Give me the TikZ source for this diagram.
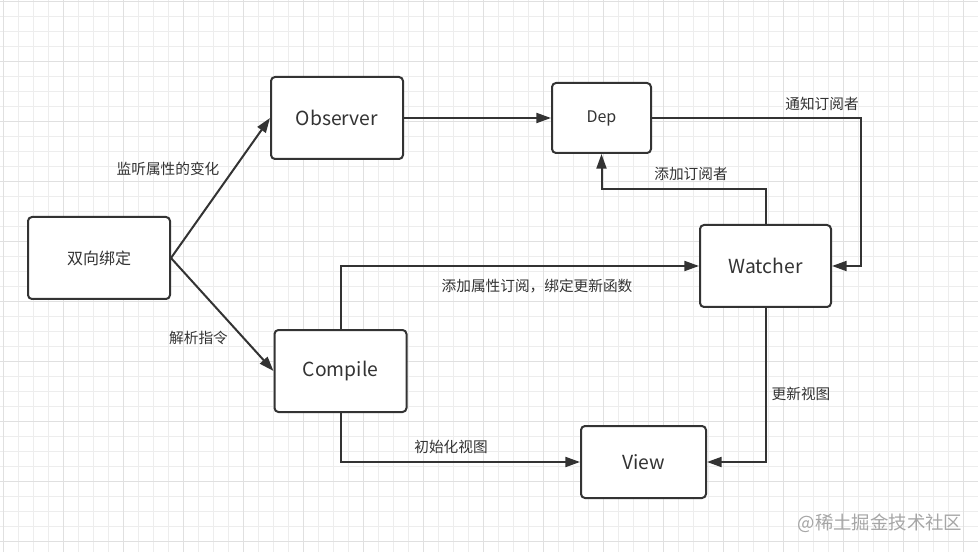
\documentclass[tikz,border=0pt]{standalone}
\usepackage{fontspec}
\setmainfont{Noto Sans CJK SC}
\usetikzlibrary{arrows.meta}
\definecolor{ink}{HTML}{333333}
\definecolor{gminor}{HTML}{EDEDED}
\definecolor{gmajor}{HTML}{E0E0E0}
\definecolor{wm}{HTML}{A6A6A6}
\tikzset{
  box/.style={draw=ink, line width=1.5pt, rounded corners=3pt, fill=white, inner sep=0pt, text=ink, font=\fontsize{14.5}{17}\selectfont},
  smallbox/.style={box, font=\fontsize{12}{14}\selectfont},
  lbl/.style={inner sep=0pt, text=ink, font=\fontsize{11}{13}\selectfont},
  conn/.style={line width=1.5pt, draw=ink, -{Triangle[length=11pt,width=7.5pt]}}
}
\begin{document}
\begin{tikzpicture}[x=0.75pt,y=-0.75pt]
\useasboundingbox (0,0) rectangle (978,552);
\fill[white] (0,0) rectangle (978,552);
% grid
\foreach \i in {0,...,65} {
  \draw[gminor, line width=0.6pt] ({3.3+15*\i},0) -- ({3.3+15*\i},552);
}
\foreach \i in {0,...,36} {
  \draw[gminor, line width=0.6pt] (0,{1.7+15*\i}) -- (978,{1.7+15*\i});
}
\foreach \i in {0,...,16} {
  \draw[gmajor, line width=0.7pt] ({3.3+60*\i},0) -- ({3.3+60*\i},552);
}
\foreach \i in {0,...,9} {
  \draw[gmajor, line width=0.7pt] (0,{1.7+60*\i}) -- (978,{1.7+60*\i});
}
% nodes
\node[smallbox, minimum width=106.5pt, minimum height=61.5pt] (bind) at (99,258) {双向绑定};
\node[box, minimum width=99pt, minimum height=61.5pt] (obs) at (337,118) {Observer};
\node[smallbox, minimum width=74.25pt, minimum height=52.5pt] (dep) at (601.5,118) {Dep};
\node[box, minimum width=98.25pt, minimum height=61.5pt] (watch) at (765.5,266) {Watcher};
\node[box, minimum width=99pt, minimum height=61.5pt] (comp) at (340.5,371) {Compile};
\node[box, minimum width=93.75pt, minimum height=54pt] (view) at (643.5,462) {View};
% helper coordinates
\coordinate (nr) at (861,118);
\coordinate (ad) at (601.5,189);
% connectors
\draw[conn] (bind.east) -- (obs.west);
\draw[conn] (bind.east) -- (comp.west);
\draw[conn] (obs.east) -- (dep.west);
\draw[conn] (dep.east) -- (nr) |- (watch.east);
\draw[conn] (watch.north) |- (ad) -- (dep.south);
\draw[conn] (comp.north) |- (watch.west);
\draw[conn] (comp.south) |- (view.west);
\draw[conn] (watch.south) |- (view.east);
% labels
\node[lbl] (l1) at (168,169) {监听属性的变化};
\node[lbl] (l2) at (198.5,337.5) {解析指令};
\node[lbl] (l3) at (822,104) {通知订阅者};
\node[lbl] (l4) at (691,174) {添加订阅者};
\node[lbl] (l5) at (537,286) {添加属性订阅，绑定更新函数};
\node[lbl] (l6) at (451,447) {初始化视图};
\node[lbl] (l7) at (801,393.5) {更新视图};
% watermark
\node[inner sep=0pt, text=wm, font=\fontsize{13.8}{16}\selectfont] (wmark) at (880,523) {@稀土掘金技术社区};
\end{tikzpicture}
\end{document}
